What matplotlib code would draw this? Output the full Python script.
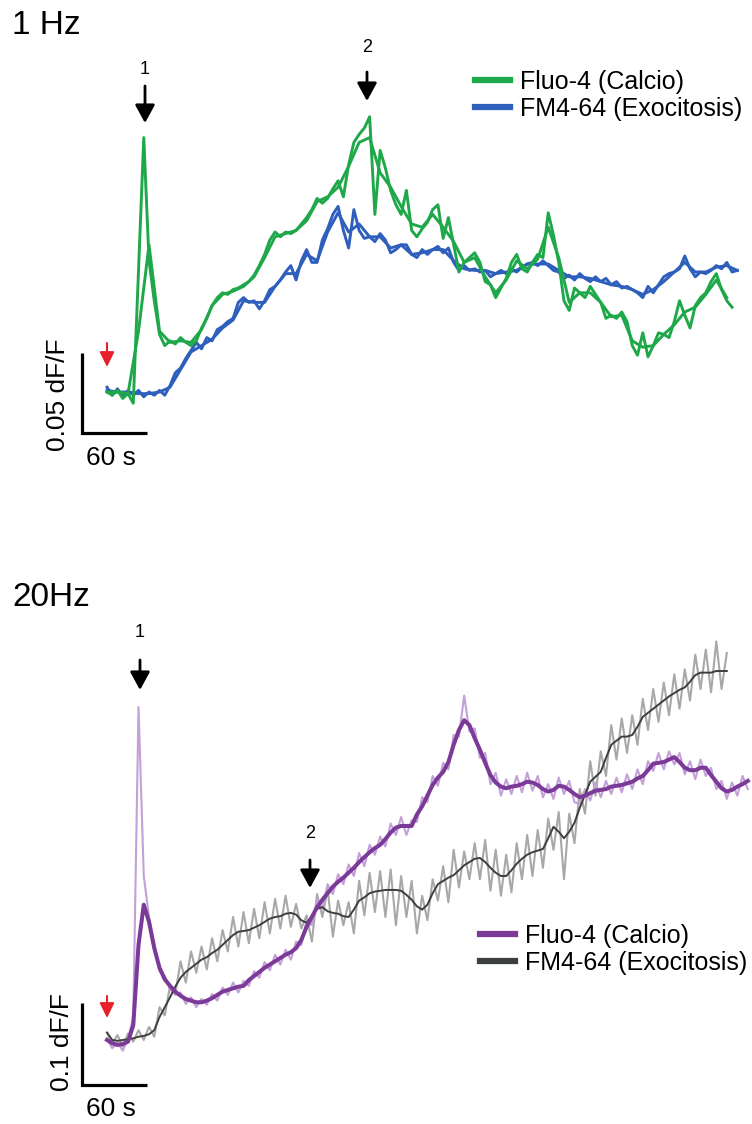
import numpy as np
import matplotlib
matplotlib.use('Agg')
import matplotlib.pyplot as plt
from matplotlib.lines import Line2D

plt.rcParams['font.family'] = ['Liberation Sans', 'DejaVu Sans']

# Data (values in 1e-3 dF/F, one sample every DT seconds)

DT = 4.85

# 1 Hz stimulation
green_raw_1hz = [
    0, -2, 1, -4, -1, -7, 76, 159, 82, 57, 36, 29, 32, 30, 34, 31, 29, 32, 40, 46,
    54, 59, 62, 61, 64, 65, 67, 69, 73, 79, 86, 95, 100, 97, 100, 99, 101, 105, 109, 114,
    121, 118, 121, 127, 132, 122, 142, 156, 161, 165, 172, 111, 151, 140, 126, 117, 111, 126, 101, 97,
    102, 106, 114, 117, 96, 109, 92, 75, 81, 84, 87, 81, 69, 67, 59, 65, 71, 81, 86, 77,
    75, 81, 86, 84, 112, 98, 81, 57, 51, 65, 62, 59, 66, 61, 56, 46, 48, 46, 50, 44,
    29, 23, 37, 22, 29, 37, 36, 34, 44, 57, 48, 40, 54, 59, 62, 69, 74, 64, 57, 53]
blue_raw_1hz = [
    3, -2, 2, -3, 1, -2, 1, -3, 0, -2, 1, -2, 4, 12, 15, 21, 26, 31, 27, 34,
    32, 39, 41, 44, 46, 56, 59, 56, 57, 52, 57, 64, 66, 70, 75, 79, 70, 82, 89, 81,
    81, 95, 102, 111, 116, 101, 90, 114, 101, 96, 97, 94, 99, 95, 87, 89, 92, 92, 86, 84,
    89, 86, 89, 91, 87, 90, 81, 76, 79, 76, 77, 75, 76, 72, 74, 76, 74, 77, 75, 78,
    80, 81, 79, 82, 79, 76, 75, 71, 73, 70, 74, 71, 69, 72, 69, 71, 67, 69, 65, 66,
    64, 62, 59, 66, 62, 67, 72, 74, 75, 77, 85, 77, 72, 75, 74, 76, 79, 77, 81, 75, 76]
# filtered traces, one sample every 2*DT
green_filt_1hz = [
    0, 0, -1, 38, 92, 38, 31, 32, 31, 39, 54, 61, 63, 66, 72, 84, 97, 99, 101, 107,
    119, 122, 128, 141, 156, 159, 137, 128, 116, 105, 103, 111, 103, 94, 81, 84, 72, 62, 70, 82,
    77, 83, 103, 84, 56, 62, 62, 56, 47, 48, 32, 28, 29, 36, 42, 50, 53, 61, 70, 59]
blue_filt_1hz = [
    1, 0, 0, -1, -1, 0, 3, 14, 25, 29, 33, 40, 45, 57, 56, 56, 66, 74, 74, 86,
    82, 100, 112, 100, 105, 97, 97, 90, 92, 86, 87, 89, 89, 82, 77, 76, 76, 74, 75, 76,
    80, 80, 80, 76, 72, 72, 71, 69, 67, 66, 64, 61, 64, 69, 75, 81, 75, 75, 78, 79, 76]

# 20 Hz stimulation
purple_raw_20hz = [
    2, -10, -3, -13, 2, 28, 406, 200, 150, 118, 84, 78, 62, 55, 58, 44, 52, 40, 50, 43,
    56, 48, 64, 55, 70, 58, 72, 66, 84, 76, 95, 85, 104, 92, 110, 98, 120, 116, 146, 140,
    172, 160, 190, 178, 202, 190, 214, 200, 228, 212, 238, 226, 248, 236, 264, 250, 272, 250, 268, 266,
    296, 290, 322, 310, 338, 330, 372, 370, 420, 376, 380, 344, 350, 312, 326, 298, 318, 300, 322, 302,
    326, 304, 322, 296, 312, 294, 320, 300, 316, 290, 288, 306, 292, 314, 296, 316, 300, 320, 302, 324,
    306, 330, 312, 340, 328, 350, 330, 352, 336, 350, 324, 340, 318, 342, 322, 332, 306, 316, 294, 314,
    298, 322, 306]
purple_filt_20hz = [
    0, -4, -6, -5, -2, 18, 116, 165, 144, 112, 88, 74, 66, 59, 54, 50, 48, 46, 46, 48,
    51, 55, 59, 61, 63, 65, 66, 73, 78, 83, 88, 92, 96, 100, 104, 107, 112, 122, 138, 150,
    162, 171, 179, 187, 193, 198, 204, 210, 217, 223, 229, 234, 238, 245, 253, 259, 261, 261, 261, 275,
    285, 298, 311, 320, 327, 339, 360, 378, 390, 384, 368, 354, 338, 323, 314, 309, 307, 309, 310, 312,
    315, 314, 311, 306, 303, 305, 310, 309, 305, 300, 296, 298, 301, 304, 305, 306, 309, 310, 311, 313,
    315, 319, 322, 329, 337, 338, 339, 342, 345, 339, 332, 329, 329, 332, 332, 323, 315, 307, 303, 305,
    309, 312, 316]
grey_raw_20hz = [
    9, -4, 6, -8, 8, -2, 12, 0, 16, 4, 40, 30, 66, 56, 96, 70, 108, 82, 114, 86,
    124, 96, 134, 108, 150, 114, 156, 118, 160, 124, 168, 130, 172, 136, 176, 138, 166, 136, 152, 120,
    178, 150, 184, 126, 170, 140, 168, 130, 194, 152, 204, 156, 206, 150, 208, 140, 200, 150, 194, 130,
    176, 146, 196, 170, 212, 168, 232, 186, 230, 196, 240, 196, 244, 182, 232, 176, 226, 180, 240, 196,
    250, 200, 256, 210, 270, 232, 278, 196, 276, 240, 306, 276, 340, 298, 352, 322, 384, 342, 392, 350,
    396, 360, 416, 378, 428, 388, 436, 396, 446, 404, 452, 414, 470, 428, 476, 424, 486, 428, 472]
grey_filt_20hz = [
    9, 0, -1, 0, 1, 2, 4, 5, 7, 12, 28, 40, 52, 65, 76, 83, 88, 93, 98, 101,
    106, 110, 116, 122, 128, 132, 133, 134, 137, 140, 144, 148, 150, 151, 154, 155, 153, 146, 143, 151,
    160, 162, 157, 155, 154, 151, 150, 159, 170, 174, 179, 181, 182, 183, 183, 183, 182, 177, 171, 163,
    159, 165, 179, 190, 194, 198, 201, 207, 213, 217, 221, 222, 217, 210, 204, 200, 200, 207, 215, 221,
    226, 229, 231, 233, 246, 260, 254, 246, 254, 265, 283, 299, 315, 321, 327, 344, 360, 365, 370, 370,
    372, 382, 394, 399, 404, 409, 414, 419, 423, 427, 430, 437, 445, 448, 448, 448, 450, 450, 450]

labels = ['Fluo-4 (Calcio)', 'FM4-64 (Exocitosis)']

GREEN = '#1fa84a'
BLUE = '#2e5fbd'
PURPLE = '#7b3a98'
PURPLE_RAW = '#c3a0d8'
GREY = '#3b403d'
GREY_RAW = '#a8a8a8'

# Layout (figure pixels)
W, H = 752, 1124
T0_PX = 107          # x pixel where recordings start
PX_PER_S = 1.083


def trace(vals, step=1):
    v = np.asarray(vals, dtype=float) / 1000.0
    return np.arange(len(v)) * DT * step, v


fig = plt.figure(figsize=(W / 100, H / 100), dpi=100)


def make_panel(top_px, bot_px, base_px, px_per_m):
    ax = fig.add_axes([0, 1 - bot_px / H, 1, (bot_px - top_px) / H])
    ax.set_xlim(-T0_PX / PX_PER_S, (W - T0_PX) / PX_PER_S)
    ax.set_ylim((base_px - bot_px) / px_per_m / 1000, (base_px - top_px) / px_per_m / 1000)
    ax.axis('off')
    tx = lambda x: (x - T0_PX) / PX_PER_S
    ty = lambda y: (base_px - y) / px_per_m / 1000
    return ax, tx, ty


def arrow(ax, x, y0, y1, color, lw, hw, hl):
    ax.annotate('', xy=(x, y1), xytext=(x, y0), annotation_clip=False,
                arrowprops=dict(arrowstyle=f'-|>,head_width={hw},head_length={hl}',
                                color=color, lw=lw, shrinkA=0, shrinkB=0,
                                mutation_scale=20))


# ---- 1 Hz panel
ax, tx, ty = make_panel(0, 470, 392, 1.6)
ax.plot(*trace(blue_raw_1hz), color=BLUE, lw=2.1)
ax.plot(*trace(blue_filt_1hz, 2), color=BLUE, lw=2.1)
ax.plot(*trace(green_raw_1hz), color=GREEN, lw=2.1)
ax.plot(*trace(green_filt_1hz, 2), color=GREEN, lw=2.1)

ax.plot([tx(82), tx(82), tx(82) + 60], [ty(433) + 0.05, ty(433), ty(433)],
        color='black', lw=2.3, solid_joinstyle='miter', solid_capstyle='butt', clip_on=False)
ax.text(tx(58), ty(395), '0.05 dF/F', rotation=90, ha='center', va='center', fontsize=19)
ax.text(tx(111), ty(458), '60 s', ha='center', va='center', fontsize=19)

arrow(ax, tx(145), ty(86), ty(123), 'black', 2.0, 0.3, 0.55)
ax.text(tx(145), ty(70), '1', ha='center', va='center', fontsize=13)
arrow(ax, tx(367), ty(72), ty(101), 'black', 2.0, 0.3, 0.55)
ax.text(tx(367), ty(47), '2', ha='center', va='center', fontsize=13)
arrow(ax, tx(107), ty(343), ty(367), '#e8202a', 1.5, 0.22, 0.45)

fig.text(12 / W, 1 - 25 / H, '1 Hz', ha='left', va='center', fontsize=24)
fig.legend([Line2D([], [], color=GREEN, lw=4.5), Line2D([], [], color=BLUE, lw=4.5)],
           labels, loc='upper left', bbox_to_anchor=(475 / W, 1 - 70 / H),
           frameon=False, fontsize=18, handlelength=1.4, handletextpad=0.4,
           labelspacing=0.12, borderpad=0, borderaxespad=0)

# ---- 20 Hz panel
ax, tx, ty = make_panel(560, 1124, 1040, 0.82)
ax.plot(*trace(grey_raw_20hz), color=GREY_RAW, lw=1.5)
ax.plot(*trace(purple_raw_20hz), color=PURPLE_RAW, lw=1.5)
ax.plot(*trace(grey_filt_20hz), color=GREY, lw=1.4)
ax.plot(*trace(purple_filt_20hz), color=PURPLE, lw=2.9)

ax.plot([tx(82), tx(82), tx(82) + 60], [ty(1085) + 0.1, ty(1085), ty(1085)],
        color='black', lw=2.3, solid_joinstyle='miter', solid_capstyle='butt', clip_on=False)
ax.text(tx(62), ty(1042), '0.1 dF/F', rotation=90, ha='center', va='center', fontsize=19)
ax.text(tx(111), ty(1109), '60 s', ha='center', va='center', fontsize=19)

arrow(ax, tx(140), ty(660), ty(690), 'black', 2.0, 0.3, 0.55)
ax.text(tx(140), ty(633), '1', ha='center', va='center', fontsize=13)
arrow(ax, tx(310), ty(860), ty(888), 'black', 2.0, 0.3, 0.55)
ax.text(tx(310), ty(833), '2', ha='center', va='center', fontsize=13)
arrow(ax, tx(107), ty(996), ty(1018), '#e8202a', 1.5, 0.22, 0.45)

fig.text(12 / W, 1 - 597 / H, '20Hz', ha='left', va='center', fontsize=24)
fig.legend([Line2D([], [], color=PURPLE, lw=4.5), Line2D([], [], color=GREY, lw=4.5)],
           labels, loc='upper left', bbox_to_anchor=(480 / W, 1 - 924 / H),
           frameon=False, fontsize=18, handlelength=1.4, handletextpad=0.4,
           labelspacing=0.12, borderpad=0, borderaxespad=0)

fig.savefig('out.png', dpi=100)
